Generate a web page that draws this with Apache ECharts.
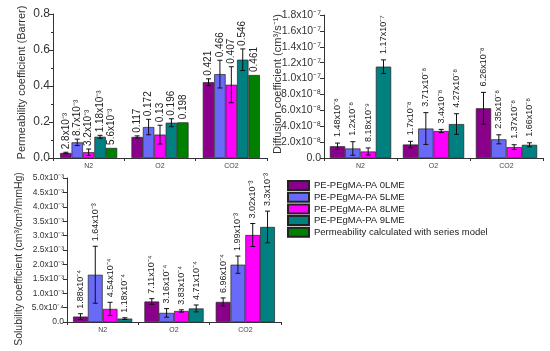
<!DOCTYPE html>
<html><head><meta charset="utf-8">
<script src="https://cdn.jsdelivr.net/npm/echarts@6/dist/echarts.min.js"></script>
<style>html,body{margin:0;padding:0;background:#fff}#c{width:550px;height:351px}</style>
</head><body><div id="c"></div>
<script>
// ---------- data ----------
const categories = ['N2', 'O2', 'CO2'];
const seriesNames = ['PE-PEgMA-PA 0LME', 'PE-PEgMA-PA 5LME', 'PE-PEgMA-PA 8LME', 'PE-PEgMA-PA 9LME', 'Permeability calculated with series model'];

// Permeability (Barrer)
const perm0 = [0.028, 0.117, 0.421];
const perm5 = [0.087, 0.172, 0.466];
const perm8 = [0.032, 0.130, 0.407];
const perm9 = [0.118, 0.196, 0.546];
const permS = [0.056, 0.198, 0.461];
const permErr0 = [0.004, 0.006, 0.019];
const permErr5 = [0.018, 0.043, 0.077];
const permErr8 = [0.018, 0.052, 0.100];
const permErr9 = [0.008, 0.022, 0.060];
const permErrS = [0, 0, 0];
const permLab0 = ['2.8x10⁻³', '0.117', '0.421'];
const permLab5 = ['8.7x10⁻³', '0.172', '0.466'];
const permLab8 = ['3.2x10⁻³', '0.13', '0.407'];
const permLab9 = ['1.18x10⁻³', '0.196', '0.546'];
const permLabS = ['5.6x10⁻³', '0.198', '0.461'];
const permTicks = ['0.0', '0.2', '0.4', '0.6', '0.8'];

// Diffusion coefficient
const diff0 = [1.48e-8, 1.7e-8, 6.26e-8];
const diff5 = [1.2e-8, 3.71e-8, 2.35e-8];
const diff8 = [8.18e-9, 3.4e-8, 1.37e-8];
const diff9 = [1.15e-7, 4.27e-8, 1.66e-8];
const diffErr0 = [4e-9, 4e-9, 2.0e-8];
const diffErr5 = [8.5e-9, 2.0e-8, 5.7e-9];
const diffErr8 = [4.5e-9, 2e-9, 3e-9];
const diffErr9 = [8.5e-9, 1.3e-8, 2.5e-9];
const diffLab0 = ['1.48x10⁻⁸', '1.7x10⁻⁸', '6.26x10⁻⁸'];
const diffLab5 = ['1.2x10⁻⁸', '3.71x10⁻⁸', '2.35x10⁻⁸'];
const diffLab8 = ['8.18x10⁻⁹', '3.4x10⁻⁸', '1.37x10⁻⁸'];
const diffLab9 = ['1.17x10⁻⁷', '4.27x10⁻⁸', '1.66x10⁻⁸'];
const diffTicks = ['0.0', '2.0x10⁻⁸', '4.0x10⁻⁸', '6.0x10⁻⁸', '8.0x10⁻⁸', '1.0x10⁻⁷', '1.2x10⁻⁷', '1.4x10⁻⁷', '1.6x10⁻⁷', '1.8x10⁻⁷'];

// Solubility coefficient
const sol0 = [1.88e-4, 7.11e-4, 6.96e-4];
const sol5 = [1.64e-3, 3.16e-4, 1.99e-3];
const sol8 = [4.54e-4, 3.83e-4, 3.02e-3];
const sol9 = [1.18e-4, 4.71e-4, 3.3e-3];
const solErr0 = [1.0e-4, 1.0e-4, 1.4e-4];
const solErr5 = [9.9e-4, 1.5e-4, 3.0e-4];
const solErr8 = [2.3e-4, 0.4e-4, 4.0e-4];
const solErr9 = [0.3e-4, 1.2e-4, 5.5e-4];
const solLab0 = ['1.88x10⁻⁴', '7.11x10⁻⁴', '6.96x10⁻⁴'];
const solLab5 = ['1.64x10⁻³', '3.16x10⁻⁴', '1.99x10⁻³'];
const solLab8 = ['4.54x10⁻⁴', '3.83x10⁻⁴', '3.02x10⁻³'];
const solLab9 = ['1.18x10⁻⁴', '4.71x10⁻⁴', '3.3x10⁻³'];
const solTicks = ['0.0', '5.0x10⁻⁴', '1.0x10⁻³', '1.5x10⁻³', '2.0x10⁻³', '2.5x10⁻³', '3.0x10⁻³', '3.5x10⁻³', '4.0x10⁻³', '4.5x10⁻³', '5.0x10⁻³'];

// ---------- styling / layout ----------
const FONT = '"Liberation Sans", Arial, Helvetica, sans-serif';
const colors = ['#8B008B', '#6A6AF8', '#FF00FF', '#008080', '#008000'];

const panels = [
  { grid: { left: 53, top: 14, width: 214, height: 144 }, gap: 0.2, max: 0.8, interval: 0.2, ticks: permTicks,
    vals: [perm0, perm5, perm8, perm9, permS], errs: [permErr0, permErr5, permErr8, permErr9, permErrS],
    labs: [permLab0, permLab5, permLab8, permLab9, permLabS], labFont: 10, labGap: 3, tickFont: 12,
    name: 'Permeability coefficient (Barrer)', nameFont: 11, nameGap: 26, namePad: [0, 0, 0, 7], minor: true },
  { grid: { left: 324, top: 15, width: 219, height: 143 }, gap: 0.16, max: 1.8e-7, interval: 2e-8, ticks: diffTicks,
    vals: [diff0, diff5, diff8, diff9], errs: [diffErr0, diffErr5, diffErr8, diffErr9],
    labs: [diffLab0, diffLab5, diffLab8, diffLab9], labFont: 9, labGap: 6, tickFont: 10.5,
    name: 'Diffusion coefficient (cm³/s⁻¹)', nameFont: 11, nameGap: 41, namePad: [0, 0, 0, 5], minor: false },
  { grid: { left: 67, top: 178, width: 214, height: 144 }, gap: 0.17, max: 5e-3, interval: 5e-4, ticks: solTicks,
    vals: [sol0, sol5, sol8, sol9], errs: [solErr0, solErr5, solErr8, solErr9],
    labs: [solLab0, solLab5, solLab8, solLab9], labFont: 9, labGap: 5, tickFont: 8.5,
    name: 'Solubility coefficient (cm³/cm³/mmHg)', nameFont: 10.5, nameGap: 42, namePad: [0, 18, 0, 0], minor: false }
];

function errSeries(g, i, n, gap, vals, errs, labs, fs, lgap) {
  return {
    type: 'custom', xAxisIndex: g, yAxisIndex: g, z: 10, silent: true,
    data: vals.map((v, k) => [k, v, errs[k]]),
    renderItem(params, api) {
      const k = api.value(0), v = api.value(1), e = api.value(2);
      const band = api.size([1, 0])[0];
      const tot = band * (1 - gap), bw = tot / n;
      const c = api.coord([k, v]);
      const x = c[0] - tot / 2 + bw * (i + 0.5);
      const yt = api.coord([k, v + e])[1], yb = api.coord([k, v - e])[1];
      const ch = [];
      if (e > 0) {
        const s = { stroke: '#111', lineWidth: 1 };
        ch.push({ type: 'line', shape: { x1: x, y1: yt, x2: x, y2: yb }, style: s });
        ch.push({ type: 'line', shape: { x1: x - 2.5, y1: yt, x2: x + 2.5, y2: yt }, style: s });
        ch.push({ type: 'line', shape: { x1: x - 2.5, y1: yb, x2: x + 2.5, y2: yb }, style: s });
      }
      ch.push({ type: 'text', x: x, y: yt - lgap, rotation: Math.PI / 2,
        style: { text: labs[params.dataIndex], fontSize: fs, fontFamily: FONT, fill: '#222', align: 'left', verticalAlign: 'middle' } });
      return { type: 'group', children: ch };
    }
  };
}

const grids = [], xAxes = [], yAxes = [], series = [];
panels.forEach((p, g) => {
  grids.push(p.grid);
  xAxes.push({
    type: 'category', gridIndex: g, data: categories,
    axisLine: { lineStyle: { color: '#333', width: 1 } },
    axisTick: { show: true, length: 3, lineStyle: { color: '#333' } },
    axisLabel: { fontSize: 7, color: '#444', fontFamily: FONT, margin: 5 }
  });
  yAxes.push({
    type: 'value', gridIndex: g, min: 0, max: p.max, interval: p.interval,
    name: p.name, nameLocation: 'middle', nameGap: p.nameGap, nameMoveOverlap: false,
    nameTextStyle: { fontSize: p.nameFont, color: '#333', fontFamily: FONT, padding: p.namePad },
    axisLine: { show: true, lineStyle: { color: '#333', width: 1 } },
    axisTick: { show: true, length: 4, lineStyle: { color: '#333' } },
    minorTick: { show: p.minor, splitNumber: 2, length: 2, lineStyle: { color: '#333' } },
    splitLine: { show: false },
    axisLabel: { fontSize: p.tickFont, color: '#333', fontFamily: FONT, margin: 3,
      formatter: (v) => p.ticks[Math.round(v / p.interval)] }
  });
  const n = p.vals.length;
  p.vals.forEach((vals, i) => {
    series.push({
      type: 'bar', name: seriesNames[i], xAxisIndex: g, yAxisIndex: g, data: vals,
      barGap: '0%', barCategoryGap: (p.gap * 100) + '%',
      itemStyle: { color: colors[i], borderColor: '#222', borderWidth: 0.7 },
      silent: true
    });
  });
  p.vals.forEach((vals, i) => {
    series.push(errSeries(g, i, n, p.gap, vals, p.errs[i], p.labs[i], p.labFont, p.labGap));
  });
});

const chart = echarts.init(document.getElementById('c'), null, { renderer: 'canvas' });
chart.setOption({
  animation: false,
  backgroundColor: '#fff',
  textStyle: { fontFamily: FONT },
  grid: grids, xAxis: xAxes, yAxis: yAxes, series: series,
  legend: {
    data: seriesNames, orient: 'vertical', left: 287, top: 180, padding: 0,
    itemWidth: 21, itemHeight: 9, itemGap: 0.7, icon: 'rect',
    textStyle: { fontSize: 9.5, lineHeight: 10, color: '#222', fontFamily: FONT },
    selectedMode: false
  }
});
</script></body></html>
